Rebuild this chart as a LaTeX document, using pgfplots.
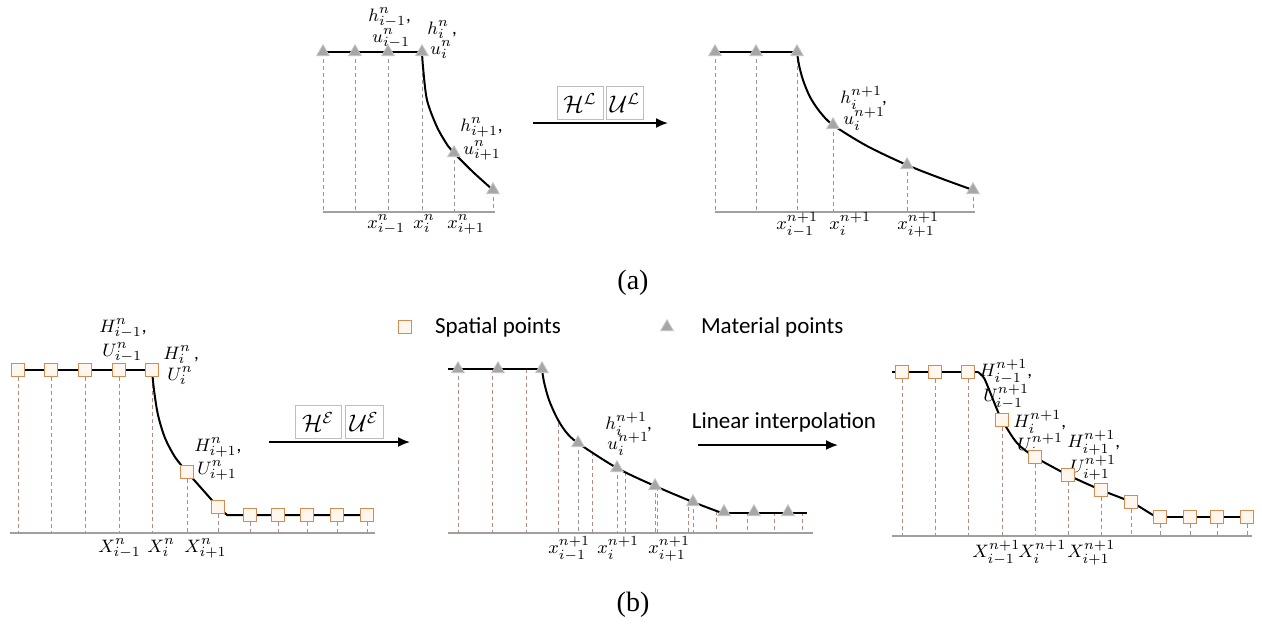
\documentclass[border=0pt]{standalone}
\usepackage{fontspec}
\setmainfont{Carlito}
\newfontfamily\tnr{Liberation Serif}
\usepackage{pgfplots}
\pgfplotsset{compat=1.18}
\usetikzlibrary{arrows.meta}
\definecolor{mgray}{RGB}{166,166,166}
\definecolor{mgrayedge}{RGB}{195,195,195}
\definecolor{sfill}{RGB}{255,247,238}
\definecolor{sedge}{RGB}{212,140,82}
\definecolor{vgray}{RGB}{150,150,150}
\definecolor{vbrown}{RGB}{178,140,128}
\definecolor{bgray}{RGB}{160,160,160}
\definecolor{boxgray}{RGB}{190,190,190}

\pgfplotsset{
  curve/.style={black, line width=1pt, mark=none},
  vline/.style={vgray, dash pattern=on 2pt off 1.5pt, line width=0.5pt, mark=none},
  vlineb/.style={vbrown, dash pattern=on 2pt off 1.5pt, line width=0.5pt, mark=none},
  base/.style={bgray, line width=0.8pt, mark=none},
  tri/.style={only marks, mark=triangle*, mark size=3.6pt,
    mark options={fill=mgray, draw=mgrayedge, line width=0.4pt}},
  sq/.style={only marks, mark=square*, mark size=3.3pt,
    mark options={fill=sfill, draw=sedge, line width=0.7pt}},
}
\tikzset{
  lab/.style={font=\fontsize{9.5}{10}\selectfont, inner sep=0pt, anchor=base west},
  op/.style={draw=boxgray, fill=white, line width=0.5pt, inner sep=1pt, font=\large,
    minimum height=16.5pt},
  arr/.style={-{Latex[length=6pt,width=5pt]}, line width=0.9pt, black},
}

\begin{document}
\begin{tikzpicture}
\begin{axis}[
  scale only axis, width=631pt, height=314.5pt,
  xmin=0, xmax=1262, ymin=0, ymax=629, y dir=reverse,
  hide axis, clip=false,
  unbounded coords=jump,
]
% ---------------- (a) left: material points at t^n
\addplot[base] coordinates {(323,212)(495,212)};
\addplot[vline] coordinates {
  (323,52)(323,212)(323,nan)(355,52)(355,212)(355,nan)
  (388,52)(388,212)(388,nan)(422,52)(422,212)(422,nan)
  (454,153)(454,212)(454,nan)(493,190)(493,212)};
\addplot[curve] coordinates {(323,52)(422,52)};
\addplot[curve, smooth] coordinates {(422,52)(423,67)(427,100)(437,127)(448,146)(454,153)(473,172)(493,190)};
\addplot[tri] coordinates {(323,52)(355,52)(388,52)(422,52)(454,153)(493,190)};

% ---------------- (a) right: material points at t^{n+1}
\addplot[base] coordinates {(715,212)(975,212)};
\addplot[vline] coordinates {
  (715,52)(715,212)(715,nan)(756,52)(756,212)(756,nan)
  (797,52)(797,212)(797,nan)(833,125)(833,212)(833,nan)
  (907,165)(907,212)(907,nan)(973,190)(973,212)};
\addplot[curve] coordinates {(715,52)(797,52)};
\addplot[curve, smooth] coordinates {(797,52)(799,65)(803,80)(810,97)(820,112)(833,125)(867,146)(907,165)(940,178)(973,190)};
\addplot[tri] coordinates {(715,52)(756,52)(797,52)(833,125)(907,165)(973,190)};

% ---------------- (b) left: spatial points at t^n
\addplot[base] coordinates {(10,533)(375,533)};
\addplot[vlineb] coordinates {
  (18,370)(18,533)(18,nan)(51,370)(51,533)(51,nan)
  (85,370)(85,533)(85,nan)(119,370)(119,533)(119,nan)
  (152,370)(152,533)(152,nan)(187,472)(187,533)(187,nan)
  (218,507)(218,533)(218,nan)(250,515)(250,533)(250,nan)
  (278,515)(278,533)(278,nan)(307,515)(307,533)(307,nan)
  (337,515)(337,533)(337,nan)(367,515)(367,533)};
\addplot[curve] coordinates {(18,370)(152,370)};
\addplot[curve, smooth] coordinates {(152,370)(154,390)(158,415)(165,438)(175,457)(187,472)};
\addplot[curve] coordinates {(187,472)(218,507)(227,515)(367,515)};
\addplot[sq] coordinates {(18,370)(51,370)(85,370)(119,370)(152,370)(187,472)
  (218,507)(250,515)(278,515)(307,515)(337,515)(367,515)};

% ---------------- (b) middle: material points after Eulerian step
\addplot[base] coordinates {(448,533)(813,533)};
\addplot[vlineb] coordinates {
  (458,369)(458,533)(458,nan)(492,369)(492,533)(492,nan)
  (526,369)(526,533)(526,nan)(558,423)(558,533)(558,nan)
  (592,452)(592,533)(592,nan)(625,472)(625,533)(625,nan)
  (657,487)(657,533)(657,nan)(688,500)(688,533)(688,nan)
  (716,511)(716,533)(716,nan)(747,512)(747,533)(747,nan)
  (774,512)(774,533)(774,nan)(802,512)(802,533)};
\addplot[vline] coordinates {
  (578,443)(578,533)(578,nan)(617,468)(617,533)(617,nan)
  (655,486)(655,533)(655,nan)(693,502)(693,533)};
\addplot[curve] coordinates {(448,369)(542,369)};
\addplot[curve, smooth] coordinates {(542,369)(544,382)(549,400)(557,418)(566,432)(578,443)(617,468)(655,486)(693,502)(722,513)};
\addplot[curve] coordinates {(722,513)(807,513)};
\addplot[tri] coordinates {(458,369)(498,369)(542,369)(578,443)(617,468)(655,486)
  (693,502)(724,512)(754,512)(788,512)};

% ---------------- (b) right: spatial points at t^{n+1}
\addplot[base] coordinates {(892,536)(1252,536)};
\addplot[vlineb] coordinates {
  (902,372)(902,536)(902,nan)(935,372)(935,536)(935,nan)
  (968,372)(968,536)(968,nan)(1002,420)(1002,536)(1002,nan)
  (1035,457)(1035,536)(1035,nan)(1068,475)(1068,536)(1068,nan)
  (1101,490)(1101,536)(1101,nan)(1131,502)(1131,536)(1131,nan)
  (1160,517)(1160,536)(1160,nan)(1190,517)(1190,536)(1190,nan)
  (1217,517)(1217,536)(1217,nan)(1247,517)(1247,536)};
\addplot[curve] coordinates {(892,372)(978,372)};
\addplot[curve, smooth] coordinates {(978,372)(984,378)(990,392)(996,407)(1002,420)(1017,443)(1035,457)
  (1068,475)(1101,490)(1131,502)(1153,515)(1160,517)};
\addplot[curve] coordinates {(1160,517)(1252,517)};
\addplot[sq] coordinates {(902,372)(935,372)(968,372)(1002,420)(1035,457)(1068,475)
  (1101,490)(1131,502)(1160,517)(1190,517)(1217,517)(1247,517)};

% ---------------- legend
\addplot[sq] coordinates {(405,327)};
\addplot[tri] coordinates {(667,327)};
\node[anchor=west, font=\fontsize{11.5}{12}\selectfont] at (axis cs:428,327) {Spatial points};
\node[anchor=west, font=\fontsize{11.5}{12}\selectfont] at (axis cs:694,327) {Material points};

% ---------------- arrows and operators
\draw[arr] (axis cs:533,123) -- (axis cs:668,123);
\node[op, minimum width=23pt] at (axis cs:580,103) {$\mathcal{H}^{\mathcal{L}}$};
\node[op, minimum width=18.5pt] at (axis cs:625,103) {$\mathcal{U}^{\mathcal{L}}$};
\draw[arr] (axis cs:269,442) -- (axis cs:410,442);
\node[op, minimum width=23pt] at (axis cs:318,422) {$\mathcal{H}^{\mathcal{E}}$};
\node[op, minimum width=19pt] at (axis cs:364,422) {$\mathcal{U}^{\mathcal{E}}$};
\draw[arr] (axis cs:698,445) -- (axis cs:838,445);
\node[font=\fontsize{11.5}{12}\selectfont] at (axis cs:784,422) {Linear interpolation};

% ---------------- labels (a)
\node[lab] at (axis cs:368,21) {$h^n_{i-1}$,};
\node[lab] at (axis cs:372,42) {$u^n_{i-1}$};
\node[lab] at (axis cs:427,34) {$h^n_i$\,,};
\node[lab] at (axis cs:430,54) {$u^n_i$};
\node[lab] at (axis cs:460,131) {$h^n_{i+1}$,};
\node[lab] at (axis cs:463,154) {$u^n_{i+1}$};
\node[lab] at (axis cs:367,228) {$x^n_{i-1}$};
\node[lab] at (axis cs:413,228) {$x^n_i$};
\node[lab] at (axis cs:447,228) {$x^n_{i+1}$};
\node[lab] at (axis cs:840,103) {$h^{n+1}_i$,};
\node[lab] at (axis cs:843,124) {$u^{n+1}_i$};
\node[lab] at (axis cs:776,229) {$x^{n+1}_{i-1}$};
\node[lab] at (axis cs:829,229) {$x^{n+1}_i$};
\node[lab] at (axis cs:897,229) {$x^{n+1}_{i+1}$};
\node[font=\tnr\fontsize{14}{14}\selectfont] at (axis cs:633,283) {(a)};

% ---------------- labels (b)
\node[lab] at (axis cs:99,332) {$H^n_{i-1}$,};
\node[lab] at (axis cs:102,356) {$U^n_{i-1}$};
\node[lab] at (axis cs:163,359) {$H^n_i$\,,};
\node[lab] at (axis cs:167,380) {$U^n_i$};
\node[lab] at (axis cs:194,451) {$H^n_{i+1}$,};
\node[lab] at (axis cs:197,474) {$U^n_{i+1}$};
\node[lab] at (axis cs:98,552) {$X^n_{i-1}$};
\node[lab] at (axis cs:147,552) {$X^n_i$};
\node[lab] at (axis cs:184,552) {$X^n_{i+1}$};
\node[lab] at (axis cs:605,429) {$h^{n+1}_i$,};
\node[lab] at (axis cs:607,449) {$u^{n+1}_i$};
\node[lab] at (axis cs:548,553) {$x^{n+1}_{i-1}$};
\node[lab] at (axis cs:597,553) {$x^{n+1}_i$};
\node[lab] at (axis cs:648,553) {$x^{n+1}_{i+1}$};
\node[lab] at (axis cs:979,376) {$H^{n+1}_{i-1}$,};
\node[lab] at (axis cs:983,401) {$U^{n+1}_{i-1}$};
\node[lab] at (axis cs:1013,427) {$H^{n+1}_i$,};
\node[lab] at (axis cs:1017,450) {$U^{n+1}_i$};
\node[lab] at (axis cs:1067,447) {$H^{n+1}_{i+1}$,};
\node[lab] at (axis cs:1070,472) {$U^{n+1}_{i+1}$};
\node[lab] at (axis cs:972,557) {$X^{n+1}_{i-1}$};
\node[lab] at (axis cs:1018,557) {$X^{n+1}_i$};
\node[lab] at (axis cs:1067,557) {$X^{n+1}_{i+1}$};
\node[font=\tnr\fontsize{14}{14}\selectfont] at (axis cs:633,605) {(b)};
\end{axis}
\pgfresetboundingbox
\path (current axis.south west) rectangle (current axis.north east);
\end{tikzpicture}
\end{document}
